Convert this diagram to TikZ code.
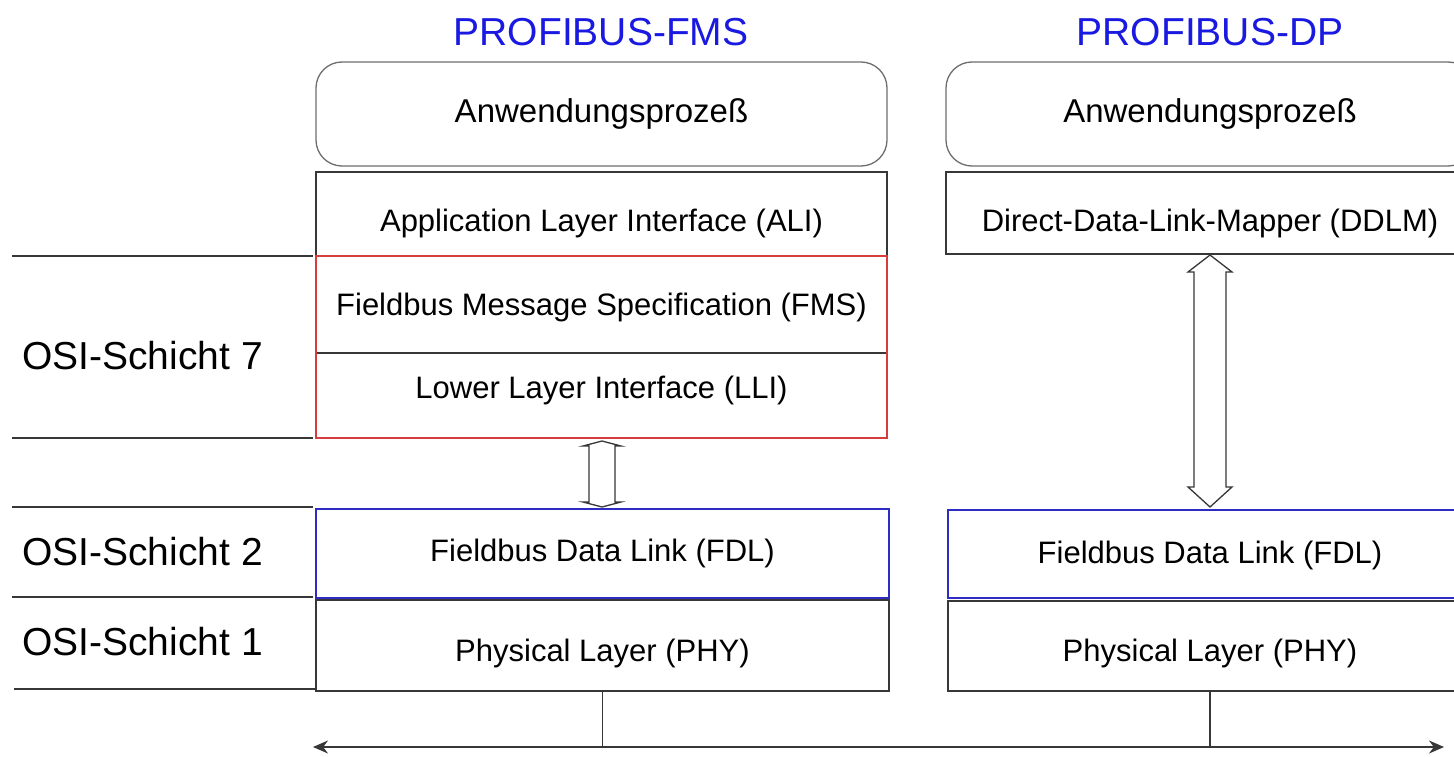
\documentclass[tikz,border=0pt]{standalone}
\usepackage{fontspec}
\setmainfont{Liberation Sans}
\usetikzlibrary{calc,arrows.meta}
\definecolor{titleblue}{RGB}{25,25,225}
\definecolor{layerred}{RGB}{215,60,60}
\definecolor{layerblue}{RGB}{45,45,195}
\definecolor{edgegray}{RGB}{55,55,55}
\definecolor{softgray}{RGB}{110,110,110}
\tikzset{
  title/.style={font=\fontsize{39}{44}\selectfont, text=titleblue, inner sep=0},
  osilabel/.style={font=\fontsize{39}{44}\selectfont, anchor=west, inner sep=0},
  layer/.style={draw=edgegray, line width=1.3pt, inner sep=0, outer sep=0,
    font=\fontsize{31}{36}\selectfont},
  plainlayer/.style={layer, draw=none},
  appbox/.style={draw=softgray, line width=1.3pt, rounded corners=26pt, inner sep=0,
    outer sep=0, font=\fontsize{33}{38}\selectfont},
  osiline/.style={draw=edgegray, line width=1.3pt},
  hollow/.style={draw=edgegray, line width=1.3pt, line join=miter},
  bus/.style={draw=edgegray, line width=1.4pt, {Stealth[length=15pt,width=13pt]}-{Stealth[length=15pt,width=13pt]}}
}
% move a label up or down without changing its box size
\newcommand{\txtshift}[2]{\raisebox{#1}[\height][\depth]{#2}}
\begin{document}
\begin{tikzpicture}[x=1pt,y=-1pt]
\clip (0,0) rectangle (1454,757);
\fill[white] (0,0) rectangle (1454,757);

% column titles
\node[title] (tfms) at (601,32) {PROFIBUS-FMS};
\node[title] (tdp) at (1210,32) {PROFIBUS-DP};

% PROFIBUS-FMS stack
\node[appbox, minimum width=571pt, minimum height=104pt] (app1) at (601.5,114) {Anwendungsprozeß};
\node[layer, minimum width=571pt, minimum height=84pt] (ali) at (601.5,214) {\txtshift{-9pt}{Application Layer Interface (ALI)}};
\node[plainlayer, minimum width=571pt, minimum height=97pt] (fms) at (601.5,304.5) {\txtshift{-3pt}{Fieldbus Message Specification (FMS)}};
\node[plainlayer, minimum width=571pt, minimum height=85pt] (lli) at (601.5,395.5) {\txtshift{5pt}{Lower Layer Interface (LLI)}};
\draw[osiline] (fms.south west) -- (fms.south east);
\draw[draw=layerred, line width=1.2pt] (fms.north west) rectangle (lli.south east);
\node[layer, draw=layerblue, minimum width=573pt, minimum height=89pt] (fdl) at (602.5,553.5) {Fieldbus Data Link (FDL)};
\node[layer, minimum width=573pt, minimum height=91pt] (phy) at (602.5,645.5) {\txtshift{-8pt}{Physical Layer (PHY)}};

% PROFIBUS-DP stack
\node[appbox, minimum width=528pt, minimum height=104pt] (app2) at (1210,114) {Anwendungsprozeß};
\node[layer, minimum width=528pt, minimum height=82pt] (ddlm) at (1210,213) {\txtshift{-10pt}{Direct-Data-Link-Mapper (DDLM)}};
\node[layer, draw=layerblue, minimum width=524pt, minimum height=88pt] (fdl2) at (1210,554) {\txtshift{-1pt}{Fieldbus Data Link (FDL)}};
\node[layer, minimum width=524pt, minimum height=90pt] (phy2) at (1210,646) {\txtshift{-7pt}{Physical Layer (PHY)}};

% hollow double arrows between layers
\coordinate (a1t) at ($(lli.south)+(0.5,3)$);
\coordinate (a1b) at ($(fdl.north)+(-0.5,-2)$);
\draw[hollow] (a1t) -- ++(19,5) -- ++(-6,0) -- ($(a1b)+(13,-5)$) -- ++(6,0) -- (a1b)
  -- ++(-19,-5) -- ++(6,0) -- ($(a1t)+(-13,5)$) -- ++(-6,0) -- cycle;
\coordinate (a2t) at ($(ddlm.south)+(0,1)$);
\coordinate (a2b) at ($(fdl2.north)+(0,-3)$);
\draw[hollow] (a2t) -- ++(22,17) -- ++(-6,0) -- ($(a2b)+(16,-20)$) -- ++(6,0) -- (a2b)
  -- ++(-22,-20) -- ++(6,0) -- ($(a2t)+(-16,17)$) -- ++(-6,0) -- cycle;

% OSI layer labels and separators
\coordinate (s1l) at (12,256);  \coordinate (s1r) at (313,256);
\coordinate (s2l) at (12,438);  \coordinate (s2r) at (313,438);
\coordinate (s3l) at (12,507);  \coordinate (s3r) at (313,507);
\coordinate (s4l) at (12,597);  \coordinate (s4r) at (313,597);
\coordinate (s5l) at (14,689);  \coordinate (s5r) at (315,689);
\foreach \s in {1,...,5} {\draw[osiline] (s\s l) -- (s\s r);}
\node[osilabel] (osi7) at (22,356) {OSI-Schicht 7};
\node[osilabel] (osi2) at (22,552) {OSI-Schicht 2};
\node[osilabel] (osi1) at (22,642) {OSI-Schicht 1};

% bus
\coordinate (busl) at (313,747);
\coordinate (busr) at (1444,747);
\draw[bus] (busl) -- (busr);
\draw[osiline] (phy.south) -- (phy.south |- busl);
\draw[osiline] (phy2.south) -- (phy2.south |- busl);
\end{tikzpicture}
\end{document}
